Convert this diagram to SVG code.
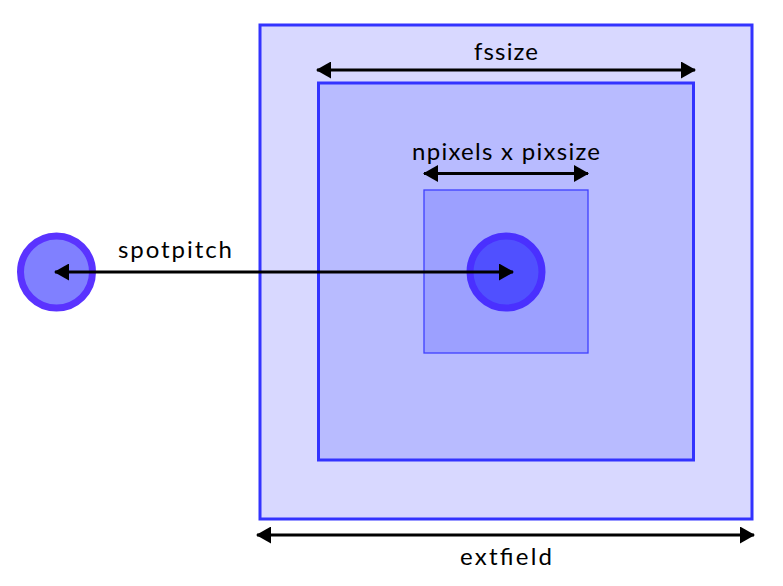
<svg xmlns="http://www.w3.org/2000/svg" width="783" height="586" viewBox="0 0 783 586">
<style>
.lbl{font-family:"Lato","Noto Sans","DejaVu Sans",sans-serif;font-size:24px;fill:#000;text-anchor:middle}
.dim{stroke:#000;stroke-width:3;fill:none;marker-start:url(#ah);marker-end:url(#ah)}
</style>
<defs>
<marker id="ah" viewBox="0 0 15 17" refX="14" refY="8.5" markerWidth="15" markerHeight="17" markerUnits="userSpaceOnUse" orient="auto-start-reverse">
<path d="M0,0 L15,8.5 L0,17 Z" fill="#000"/>
</marker>
</defs>
<g id="extfield-box"><rect x="260" y="25" width="492" height="494" fill="#d8d8ff" stroke="#3333ff" stroke-width="3"/></g>
<g id="fssize-box"><rect x="318.5" y="83" width="375" height="377" fill="#b8bbff" stroke="#3333ff" stroke-width="3"/></g>
<g id="pixel-box"><rect x="424" y="190" width="164" height="163" fill="#9ca0ff" stroke="#3f3fff" stroke-width="1.3"/></g>
<g id="spot-center"><circle cx="506" cy="272" r="36" fill="#5050ff" stroke="#4a30ff" stroke-width="7"/></g>
<g id="spot-left"><circle cx="56.5" cy="272" r="36" fill="#8080ff" stroke="#5a33ff" stroke-width="7"/></g>
<g id="connectors">
<line class="dim" x1="317" y1="70" x2="695" y2="70"/>
<line class="dim" x1="424" y1="173.5" x2="588" y2="173.5"/>
<line class="dim" x1="257" y1="535" x2="754" y2="535"/>
<path d="M513,272 L55,272" stroke="#000" stroke-width="3" fill="none" marker-start="url(#ah)" marker-end="url(#ah)"/>
</g>
<g id="labels">
<text class="lbl" x="506" y="60" textLength="64" lengthAdjust="spacing">fssize</text>
<text class="lbl" x="506" y="160" textLength="188" lengthAdjust="spacing">npixels x pixsize</text>
<text class="lbl" x="175" y="258" textLength="114" lengthAdjust="spacing">spotpitch</text>
<text class="lbl" x="506" y="565" textLength="92" lengthAdjust="spacing">extfield</text>
</g>
</svg>
